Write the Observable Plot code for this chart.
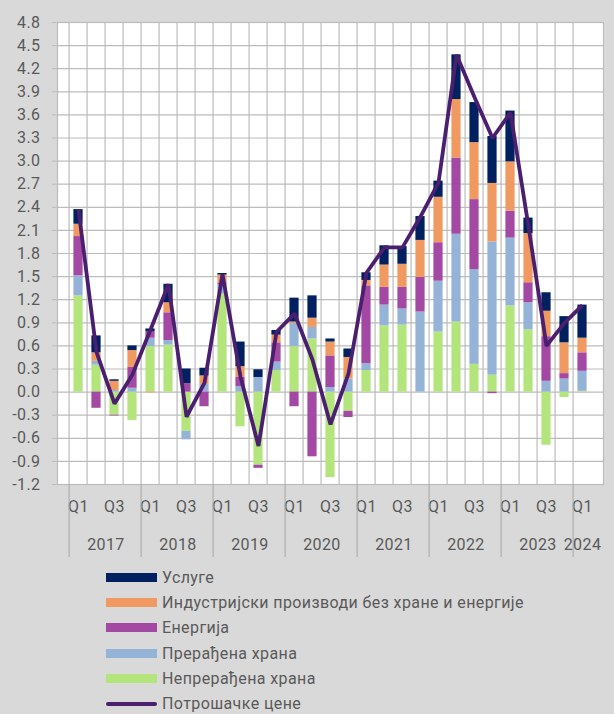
<!DOCTYPE html>
<html><head><meta charset="utf-8">
<script src="https://cdn.jsdelivr.net/npm/d3@7"></script>
<script src="https://cdn.jsdelivr.net/npm/@observablehq/plot@0.6"></script>
<style>
body{margin:0;background:#d9d9d9;font-family:Roboto,"Noto Sans",sans-serif;}
#wrap{width:614px;height:714px;background:#d9d9d9;overflow:hidden;position:relative}
#chart svg{display:block}
.legend{padding-left:106px}
.row{display:flex;align-items:center;height:25.2px;color:#595959;font-size:16px;letter-spacing:0.4px;white-space:nowrap}
.sw{width:51px;height:9px;margin-right:5px;flex:none}
.ln{width:51px;height:4px;border-radius:2px;margin-right:5px;flex:none}
</style></head>
<body><div id="wrap"><div id="chart"></div><div class="legend" id="legend"></div></div>
<script>
const periods = ["2017Q1","2017Q2","2017Q3","2017Q4","2018Q1","2018Q2","2018Q3","2018Q4",
  "2019Q1","2019Q2","2019Q3","2019Q4","2020Q1","2020Q2","2020Q3","2020Q4",
  "2021Q1","2021Q2","2021Q3","2021Q4","2022Q1","2022Q2","2022Q3","2022Q4",
  "2023Q1","2023Q2","2023Q3","2023Q4","2024Q1"];
const years = ["2017","2018","2019","2020","2021","2022","2023","2024"];
const yTicks = [-1.2,-0.9,-0.6,-0.3,0,0.3,0.6,0.9,1.2,1.5,1.8,2.1,2.4,2.7,3.0,3.3,3.6,3.9,4.2,4.5,4.8];

const unprocessedFood = [1.25,0.35,-0.30,-0.37,0.59,0.61,-0.51,0.00,1.27,-0.45,-0.95,0.28,0.59,0.69,-1.11,-0.25,0.28,0.86,0.87,0.00,0.78,0.91,0.36,0.22,1.12,0.81,-0.69,-0.07,0.01];
const processedFood   = [0.26,0.05,0.02,0.05,0.11,0.06,-0.11,0.10,0.12,0.07,0.19,0.11,0.30,0.15,0.06,0.17,0.09,0.27,0.21,1.04,0.66,1.14,1.23,1.73,0.88,0.35,0.14,0.17,0.26];
const energy          = [0.51,-0.21,-0.01,0.27,0.08,0.36,0.11,-0.19,0.02,0.12,-0.04,0.25,-0.19,-0.84,0.41,-0.08,1.01,0.23,0.28,0.45,0.50,0.99,0.91,-0.02,0.35,0.26,0.58,0.07,0.24];
const industrial      = [0.16,0.11,0.12,0.22,-0.01,0.13,0.00,0.11,0.11,0.14,0.00,0.10,0.02,0.12,0.18,0.28,0.07,0.29,0.30,0.48,0.59,0.76,0.74,0.76,0.64,0.64,0.33,0.40,0.19];
const services        = [0.19,0.22,0.02,0.06,0.04,0.24,0.19,0.10,0.02,0.32,0.10,0.06,0.31,0.29,0.04,0.11,0.10,0.25,0.23,0.31,0.21,0.58,0.52,0.61,0.66,0.20,0.24,0.34,0.43];
const cpi             = [2.37,0.52,-0.15,0.23,0.81,1.40,-0.32,0.12,1.53,0.20,-0.70,0.78,1.02,0.42,-0.42,0.24,1.55,1.88,1.88,2.28,2.72,4.38,3.83,3.30,3.63,2.15,0.60,0.90,1.13];

const seriesNames = ["Непрерађена храна","Прерађена храна","Енергија","Индустријски производи без хране и енергије","Услуге"];
const seriesValues = [unprocessedFood, processedFood, energy, industrial, services];
const seriesColors = ["#B4E57C","#95B3D7","#A349A4","#F09A62","#002060"];
const lineName = "Потрошачке цене";
const lineColor = "#4B1F6F";

const rows = [];
seriesNames.forEach((s, si) => periods.forEach((p, pi) => rows.push({period: p, series: s, value: seriesValues[si][pi]})));
const lineRows = periods.map((p, i) => ({period: p, value: cpi[i]}));

const W = 614, H = 565, mL = 57, mR = 11, mT = 22, mB = 81;
const step = (W - mL - mR) / periods.length;
const grid = "#bcbcbc", txt = "#595959";
const font = "Roboto, 'Noto Sans', sans-serif";

const chart = Plot.plot({
  width: W, height: H,
  marginLeft: mL, marginRight: mR, marginTop: mT, marginBottom: mB,
  style: {background: "transparent", fontFamily: font, fontSize: "16px", color: txt, letterSpacing: "0.4px"},
  x: {type: "band", domain: periods, padding: 0},
  y: {domain: [-1.2, 4.8]},
  color: {domain: seriesNames, range: seriesColors},
  marks: [
    Plot.frame({fill: "white", stroke: null}),
    Plot.ruleY(yTicks, {stroke: grid, strokeWidth: 1.2}),
    Plot.ruleX(periods, {x: d => d, dx: -step / 2, stroke: grid, strokeWidth: 1.2}),
    Plot.frame({stroke: grid, strokeWidth: 1.2}),
    Plot.axisY({ticks: yTicks, tickFormat: d => d.toFixed(1), tickSize: 5, tickPadding: 12, stroke: grid, fill: txt, label: null, fontSize: 16}),
    Plot.axisX({tickSize: 0, tickPadding: 16, label: null, fill: txt, fontSize: 16,
      tickFormat: d => d.endsWith("Q1") ? "Q1" : d.endsWith("Q3") ? "Q3" : ""}),
    Plot.axisX(periods.filter(d => d.endsWith("Q1")), {tickSize: 73, tickFormat: () => "", dx: -step / 2, stroke: "#a6a6a6", label: null}),
    Plot.text(years.slice(0, -1), {x: d => d + "Q2", dx: step / 2, frameAnchor: "bottom", lineAnchor: "top", dy: 54, fill: txt, fontSize: 16}),
    Plot.text(years.slice(-1), {x: d => d + "Q1", frameAnchor: "bottom", lineAnchor: "top", dy: 54, fill: txt, fontSize: 16}),
    Plot.barY(rows, {x: "period", y: "value", fill: "series", z: "series", order: seriesNames, insetLeft: 4.4, insetRight: 4.4}),
    Plot.lineY(lineRows, {x: "period", y: "value", stroke: lineColor, strokeWidth: 3.8, strokeLinejoin: "miter", strokeLinecap: "butt"})
  ]
});
document.getElementById("chart").appendChild(chart);

const legend = document.getElementById("legend");
const legendItems = seriesNames.map((s, i) => ({name: s, color: seriesColors[i], kind: "bar"})).reverse();
legendItems.push({name: lineName, color: lineColor, kind: "line"});
for (const it of legendItems) {
  const r = document.createElement("div"); r.className = "row";
  const sw = document.createElement("div"); sw.className = it.kind === "bar" ? "sw" : "ln"; sw.style.background = it.color;
  const t = document.createElement("span"); t.textContent = it.name;
  r.appendChild(sw); r.appendChild(t); legend.appendChild(r);
}
</script>
</body></html>
